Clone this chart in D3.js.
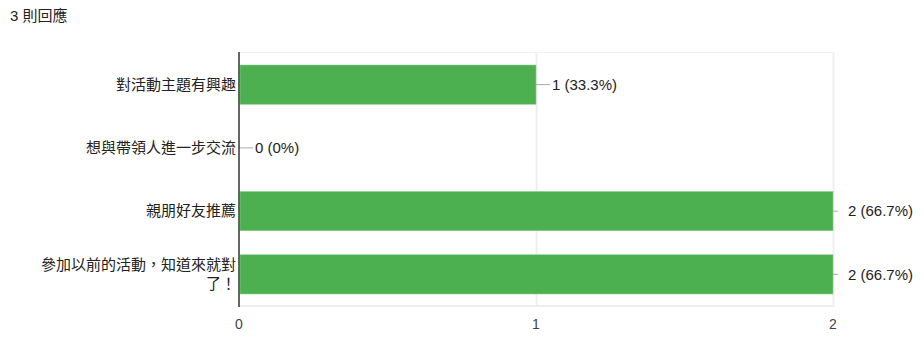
<!DOCTYPE html>
<html>
<head>
<meta charset="utf-8">
<script src="https://cdn.jsdelivr.net/npm/d3@7"></script>
<style>
  body { margin: 0; background: #fff; }
  text { font-family: "Liberation Sans", Arial, "Noto Sans CJK TC", sans-serif; }
</style>
</head>
<body>
<div id="chart"></div>
<script>
var categories = ["對活動主題有興趣", "想與帶領人進一步交流", "親朋好友推薦", "參加以前的活動，知道來就對了！"]
var counts = [1, 0, 2, 2]
var percents = ["33.3%", "0%", "66.7%", "66.7%"]
var xTicks = [0, 1, 2]
var title = "3 則回應"

var width = 924, height = 349
var marge = {top: 53, bottom: 43, left: 239, right: 89}

var svg = d3.select("#chart").append("svg")
    .attr("width", width)
    .attr("height", height)

svg.append("text")
    .attr("x", 10).attr("y", 21)
    .attr("font-size", 15).attr("fill", "#222")
    .text(title)

var g = svg.append("g")
    .attr("transform", "translate(" + marge.left + "," + marge.top + ")")

var innerW = width - marge.left - marge.right
var innerH = height - marge.top - marge.bottom

var xScale = d3.scaleLinear().domain([0, 2]).range([0, innerW - 2])
var yScale = d3.scaleBand().domain(categories).range([0, innerH]).paddingInner(0.38).paddingOuter(0.19)

// grid
g.selectAll(".vgrid").data(xTicks.slice(1)).enter().append("line")
    .attr("x1", function(d) { return xScale(d) + 0.5 }).attr("x2", function(d) { return xScale(d) + 0.5 })
    .attr("y1", -1).attr("y2", innerH)
    .attr("stroke", "#eee").attr("stroke-width", 2)
g.append("line").attr("x1", 0).attr("x2", xScale(2) + 1.5).attr("y1", -0.5).attr("y2", -0.5)
    .attr("stroke", "#f2f2f2")
g.append("line").attr("x1", 0).attr("x2", xScale(2) + 1.5).attr("y1", innerH).attr("y2", innerH)
    .attr("stroke", "#eee").attr("stroke-width", 2)

// bars
var gs = g.selectAll(".row").data(categories).enter().append("g")

gs.append("line")
    .attr("x1", function(d, i) { return xScale(counts[i]) })
    .attr("x2", function(d, i) { return xScale(counts[i]) + (counts[i] == 2 ? 5 : 14) })
    .attr("y1", function(d) { return yScale(d) + yScale.bandwidth() / 2 })
    .attr("y2", function(d) { return yScale(d) + yScale.bandwidth() / 2 })
    .attr("stroke", "#aaa")

gs.append("rect")
    .attr("x", 1)
    .attr("y", function(d) { return yScale(d) })
    .attr("width", function(d, i) { return Math.max(0, xScale(counts[i]) - 1) })
    .attr("height", yScale.bandwidth())
    .attr("fill", "#4caf50")
    .attr("stroke", "#8bcf8e")
    .attr("stroke-width", function(d, i) { return counts[i] ? 0.6 : 0 })

gs.append("text")
    .attr("x", function(d, i) { return xScale(counts[i]) + (counts[i] == 2 ? 15 : 16) })
    .attr("y", function(d) { return yScale(d) + yScale.bandwidth() / 2 })
    .attr("dy", "0.35em")
    .attr("font-size", 15).attr("fill", "#222")
    .text(function(d, i) { return counts[i] + " (" + percents[i] + ")" })

// y labels
gs.each(function(d, i) {
    var cy = yScale(d) + yScale.bandwidth() / 2
    var t = d3.select(this).append("text")
        .attr("text-anchor", "end")
        .attr("font-size", 15).attr("fill", "#222")
    if (d.length > 13) {
        t.append("tspan").attr("x", -3).attr("y", cy - 4).text(d.slice(0, 13))
        t.append("tspan").attr("x", -3).attr("y", cy + 15).text(d.slice(13))
    } else {
        t.attr("x", -3).attr("y", cy).attr("dy", "0.35em").text(d)
    }
})

// axis line
g.append("line").attr("x1", 0).attr("x2", 0).attr("y1", -1).attr("y2", innerH + 1)
    .attr("stroke", "#333").attr("stroke-width", 1.5)

// x tick labels
g.selectAll(".xt").data(xTicks).enter().append("text")
    .attr("x", function(d) { return xScale(d) })
    .attr("y", innerH + 23)
    .attr("text-anchor", "middle")
    .attr("font-size", 14).attr("fill", "#444")
    .text(function(d) { return d })
</script>
</body>
</html>
